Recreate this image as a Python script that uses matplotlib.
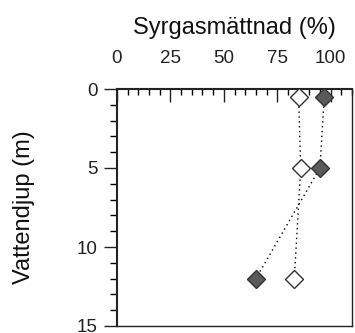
import matplotlib
matplotlib.use("Agg")
import matplotlib.pyplot as plt
from matplotlib.ticker import MultipleLocator

plt.rcParams['font.family'] = ['Liberation Sans', 'DejaVu Sans']

# Oxygen saturation profiles
depth_filled = [0.5, 5, 12]
sat_filled = [97, 95, 65]
depth_open = [0.5, 5, 12]
sat_open = [85, 86, 83]
x_ticks = [0, 25, 50, 75, 100]
y_ticks = [0, 5, 10, 15]

fig = plt.figure(figsize=(3.55, 3.33), dpi=100)
ax = fig.add_axes([117/355, 1-326/333, (352-117)/355, (326-89)/333])

dot = (0, (1, 2.5))
ax.plot(sat_open, depth_open, linestyle=dot, color='black', lw=1.0, zorder=2)
ax.plot(sat_filled, depth_filled, linestyle=dot, color='black', lw=1.0, zorder=2)
ax.plot(sat_open, depth_open, linestyle='none', marker='D', ms=9.5, mfc='white',
        mec='#333333', mew=1.0, zorder=3)
ax.plot(sat_filled, depth_filled, linestyle='none', marker='D', ms=9.5, mfc='#5a5a5a',
        mec='#333333', mew=1.0, zorder=3)

ax.set_xlim(0, 110)
ax.set_ylim(15, 0)
ax.xaxis.tick_top()
ax.xaxis.set_label_position('top')
ax.set_xticks(x_ticks)
ax.set_yticks(y_ticks)
ax.xaxis.set_minor_locator(MultipleLocator(5))
ax.yaxis.set_minor_locator(MultipleLocator(1))

ax.tick_params(axis='x', which='major', direction='in', length=9.5, width=1.0,
               labelsize=13.5, pad=16, colors='#222222')
ax.tick_params(axis='x', which='minor', direction='in', length=4.5, width=1.0)
ax.tick_params(axis='y', which='major', direction='out', length=9.5, width=1.0,
               labelsize=13.5, pad=4.5, colors='#222222')
ax.tick_params(axis='y', which='minor', direction='out', length=5, width=1.0)

for side, sp in ax.spines.items():
    sp.set_color('#222222')
    sp.set_linewidth(1.5 if side in ('left', 'top') else 1.0)

ax.set_xlabel('Syrgasmättnad (%)', fontsize=17, color='#111111')
ax.set_ylabel('Vattendjup (m)', fontsize=17, color='#111111')
ax.xaxis.set_label_coords(0.498, 1.232)
ax.yaxis.set_label_coords(-0.349, 0.502)

fig.savefig('out.png', dpi=100)
